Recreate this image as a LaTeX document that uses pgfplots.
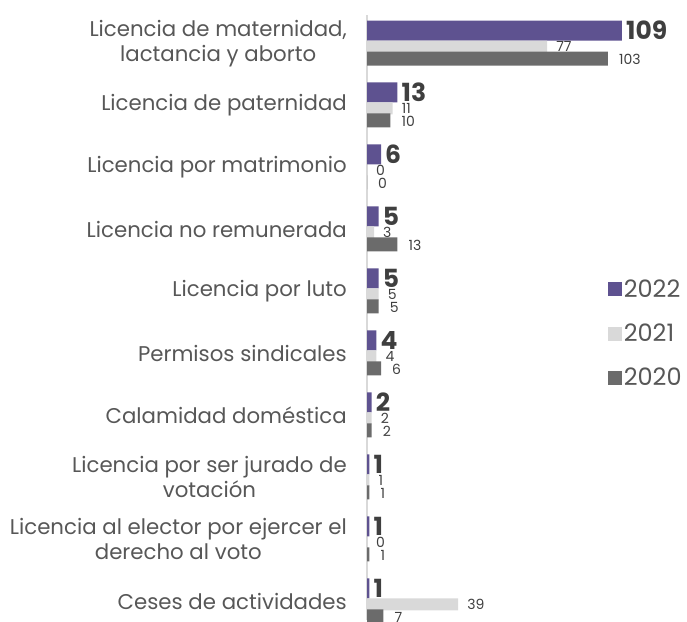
\documentclass[border=0pt]{standalone}
\usepackage{pgfplots}
\pgfplotsset{compat=1.18}
\usepackage{fontspec}
\setmainfont{Poppins}
\definecolor{c22}{HTML}{5E5290}
\definecolor{c21}{HTML}{D9D9D9}
\definecolor{c20}{HTML}{6B6B6B}
\definecolor{txt}{HTML}{3F3F3F}
\definecolor{lbl}{HTML}{575757}
\begin{document}
\begin{tikzpicture}
\begin{axis}[
    name=ax,
    at={(367pt,1pt)}, anchor=south west,
    scale only axis,
    width=320pt, height=605pt,
    xbar,
    xmin=0, xmax=136.8,
    ymin=-0.3, ymax=9.46,
    axis x line=none,
    axis y line*=left,
    y axis line style={c21, line width=2pt, -},
    major tick length=0pt,
    ytick={0,...,9},
    yticklabels={
        Ceses de actividades,
        {Licencia al elector por ejercer el\\derecho al voto},
        {Licencia por ser jurado de\\votación},
        Calamidad doméstica,
        Permisos sindicales,
        Licencia por luto,
        Licencia no remunerada,
        Licencia por matrimonio,
        Licencia de paternidad,
        {Licencia de maternidad,\\lactancia y aborto}},
    yticklabel style={align=center, anchor=east, inner sep=0pt, xshift=-20pt,
        text=lbl, font=\fontsize{21.3}{25}\selectfont},
    clip=false,
    /pgf/number format/assume math mode=true,
    nodes near coords,
    every node near coord/.append style={anchor=west, text=txt, inner sep=3pt},
    legend style={at={(rel axis cs:0.752,0.566)}, anchor=north west,
        draw=none, fill=none, font=\fontsize{24}{24}\selectfont, text=lbl,
        row sep=21pt, inner sep=0pt},
    legend cell align=left,
    legend image code/.code={\fill[#1] (0pt,-7pt) rectangle (14pt,7pt);},
]
\addplot[fill=c22, draw=none, bar width=20pt, bar shift=13pt,
    every node near coord/.append style={font=\fontsize{25}{25}\bfseries, inner sep=4pt}]
    coordinates {(109,9) (13,8) (6,7) (5,6) (5,5) (4,4) (2,3) (1,2) (1,1) (1,0)};
\addplot[fill=c21, draw=none, bar width=12pt, bar shift=-3pt,
    every node near coord/.append style={font=\fontsize{14}{14}\selectfont, xshift=6pt}]
    coordinates {(77,9) (11,8) (0,7) (3,6) (5,5) (4,4) (2,3) (1,2) (0,1) (39,0)};
\addplot[fill=c20, draw=none, bar width=14pt, bar shift=-15pt,
    every node near coord/.append style={font=\fontsize{14}{14}\selectfont, xshift=8pt, yshift=-1pt}]
    coordinates {(103,9) (10,8) (0,7) (13,6) (5,5) (6,4) (2,3) (1,2) (1,1) (7,0)};
\legend{2022,2021,2020}
\end{axis}
\pgfresetboundingbox
\path[use as bounding box] (0,0) rectangle (687pt,621pt);
\end{tikzpicture}
\end{document}
